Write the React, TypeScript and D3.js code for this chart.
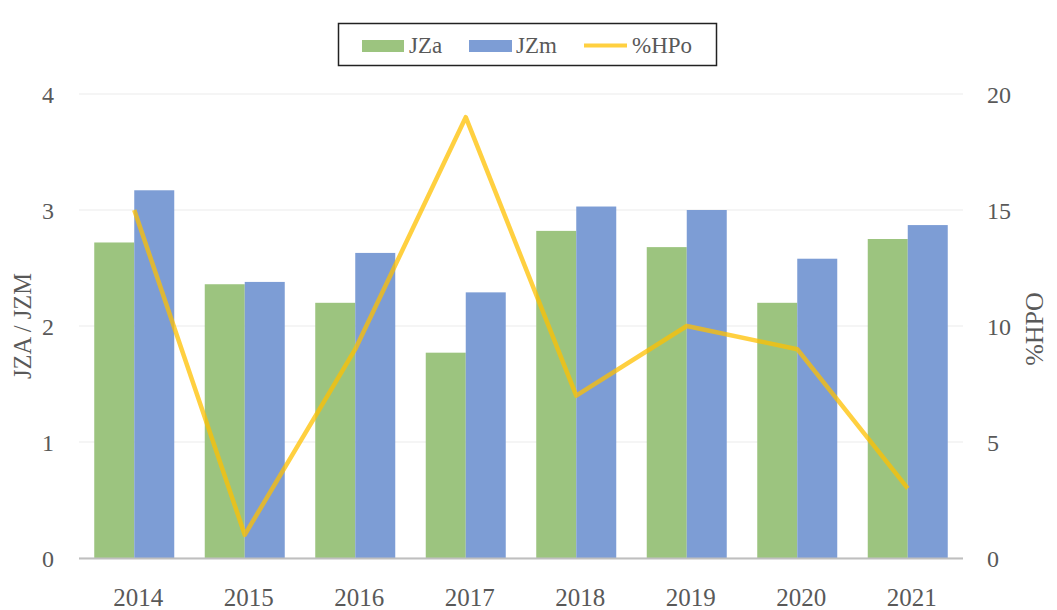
import React from "react";
import * as d3 from "d3";

const years = ["2014", "2015", "2016", "2017", "2018", "2019", "2020", "2021"];
const jza = [2.72, 2.36, 2.2, 1.77, 2.82, 2.68, 2.2, 2.75];
const jzm = [3.17, 2.38, 2.63, 2.29, 3.03, 3.0, 2.58, 2.87];
const hpo = [15, 1, 9, 19, 7, 10, 9, 3];
const leftTicks = [0, 1, 2, 3, 4];
const rightTicks = [0, 5, 10, 15, 20];

const W = 1057;
const H = 610;
const M = { left: 79, right: 963, top: 94, bottom: 558 };
const GREEN = "#9cc47f";
const BLUE = "#7d9dd5";
const YELLOW = "#ffc000";
const TEXT = "#595959";
const FONT = "'Liberation Serif', 'Times New Roman', serif";

export default function App() {
  const x = d3.scaleBand().domain(years).range([M.left, M.right]).paddingInner(0).paddingOuter(0);
  const yL = d3.scaleLinear().domain([0, 4]).range([M.bottom, M.top]);
  const yR = d3.scaleLinear().domain([0, 20]).range([M.bottom, M.top]);
  const bw = 40;
  const cx = (y: string) => (x(y) as number) + x.bandwidth() / 2;
  const line = d3
    .line<number>()
    .x((_, i) => cx(years[i]))
    .y((d) => yR(d));

  return (
    <svg
      width={W}
      height={H}
      style={{ position: "absolute", left: 0, top: 0, background: "#fff" }}
      fontFamily={FONT}
    >
      <rect width={W} height={H} fill="#fff" />
      {leftTicks.map((t) => (
        <line key={t} x1={M.left} x2={M.right} y1={yL(t)} y2={yL(t)} stroke="#ececec" strokeWidth={1.2} />
      ))}
      {years.map((y, i) => (
        <g key={y}>
          <rect x={cx(y) - bw} y={yL(jza[i])} width={bw} height={yL(0) - yL(jza[i])} fill={GREEN} />
          <rect x={cx(y)} y={yL(jzm[i])} width={bw} height={yL(0) - yL(jzm[i])} fill={BLUE} />
          <text x={cx(y) + 4} y={606} fontSize={25} fill={TEXT} textAnchor="middle">
            {y}
          </text>
        </g>
      ))}
      <line x1={M.left} x2={M.right} y1={M.bottom + 0.5} y2={M.bottom + 0.5} stroke="#bfbfbf" strokeWidth={2} />
      <path d={line(hpo) || ""} fill="none" stroke={YELLOW} strokeOpacity={0.75} strokeWidth={4.5} strokeLinejoin="round" />
      {leftTicks.map((t) => (
        <text key={t} x={54} y={yL(t) + 9} fontSize={24} fill={TEXT} textAnchor="end">
          {t}
        </text>
      ))}
      {rightTicks.map((t) => (
        <text key={t} x={987} y={yR(t) + 9} fontSize={24} fill={TEXT} textAnchor="start">
          {t}
        </text>
      ))}
      <text transform="translate(31,326) rotate(-90)" fontSize={24.5} fill={TEXT} textAnchor="middle">
        JZA / JZM
      </text>
      <text transform="translate(1043,329) rotate(-90)" fontSize={26} fill={TEXT} textAnchor="middle">
        %HPO
      </text>
      <g>
        <rect x={338.5} y={23.5} width={378} height={42} fill="#fff" stroke="#222" strokeWidth={1.5} />
        <rect x={362} y={40} width={42} height={12} fill={GREEN} />
        <text x={409} y={53} fontSize={23} fill={TEXT}>JZa</text>
        <rect x={469} y={40} width={43} height={12} fill={BLUE} />
        <text x={516} y={53} fontSize={23} fill={TEXT}>JZm</text>
        <line x1={584} x2={627} y1={45.5} y2={45.5} stroke={YELLOW} strokeOpacity={0.75} strokeWidth={4} />
        <text x={632} y={53} fontSize={23} fill={TEXT}>%HPo</text>
      </g>
    </svg>
  );
}
